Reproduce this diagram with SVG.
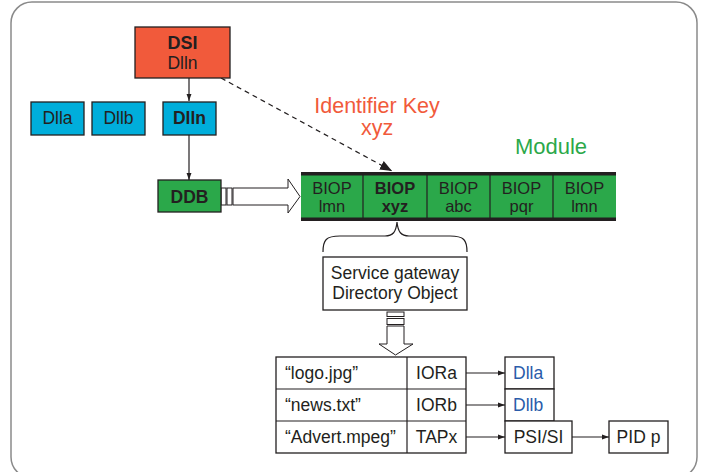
<svg xmlns="http://www.w3.org/2000/svg" width="701" height="472" viewBox="0 0 701 472">
<style>
text{font-family:"Liberation Sans",Arial,sans-serif;fill:#231f20;font-size:17.5px;text-anchor:middle}
.b{font-weight:bold}
.l{text-anchor:start}
.big{font-size:18px}
.red{font-size:21.5px;fill:#f15a3b}
.grn{font-size:22px;fill:#2ba84a}
.blu{fill:#2a5caa}
.m{font-size:16.5px}
.box{stroke:#231f20;stroke-width:1.3}
.line{stroke:#231f20;stroke-width:1.2;fill:none}
.hol{fill:#fff;stroke:#231f20;stroke-width:1}
</style>
<defs>
<marker id="ah" viewBox="0 0 10 10" refX="10" refY="5" markerWidth="7" markerHeight="7" markerUnits="userSpaceOnUse" orient="auto"><path d="M0,1.5 L10,5 L0,8.5z" fill="#231f20"/></marker>
<marker id="ahd" viewBox="0 0 10 10" refX="10" refY="5" markerWidth="12" markerHeight="12" markerUnits="userSpaceOnUse" orient="auto"><path d="M0,1 L10,5 L0,9z" fill="#231f20"/></marker>
</defs>
<rect x="11" y="2" width="686" height="476" rx="21" fill="#fff" stroke="#8a8a8a" stroke-width="1.5"/>

<g id="connectors">
<line class="line" x1="189" y1="78" x2="189" y2="101" marker-end="url(#ah)"/>
<line class="line" x1="189" y1="135" x2="189" y2="180" marker-end="url(#ah)"/>
<line class="line" x1="221" y1="78" x2="392" y2="171" stroke-dasharray="5,4" marker-end="url(#ahd)"/>
<rect class="hol" x="221" y="188" width="5" height="17"/>
<rect class="hol" x="227" y="188" width="5" height="17"/>
<path class="hol" d="M233,188 H288 V179 L300,196.5 L288,213 V205 H233z"/>
<path class="line" d="M323,252 C323,240 326,236 340,236 H385 C393,236 396,232 397,222 C398,232 401,236 409,236 H450 C464,236 467,240 467,252"/>
<rect class="hol" x="387" y="312" width="17" height="4.5"/>
<rect class="hol" x="387" y="318.5" width="17" height="6"/>
<path class="hol" d="M387,326 V344 H379 L395.5,355 L413,344 H404 V326z"/>
<line class="line" x1="466" y1="373" x2="505" y2="373" marker-end="url(#ah)"/>
<line class="line" x1="466" y1="405" x2="505" y2="405" marker-end="url(#ah)"/>
<line class="line" x1="466" y1="437" x2="505" y2="437" marker-end="url(#ah)"/>
<line class="line" x1="572" y1="437" x2="609" y2="437" marker-end="url(#ah)"/>
</g>

<g id="dsi">
<rect class="box" x="135" y="27" width="95" height="51" fill="#f15a3b"/>
<text class="b big" x="182.5" y="49">DSI</text>
<text x="182.5" y="69">Dlln</text>
</g>
<g id="dlla"><rect class="box" x="31" y="102" width="53" height="33" fill="#00aedb"/><text x="57.5" y="124">Dlla</text></g>
<g id="dllb"><rect class="box" x="92" y="102" width="53" height="33" fill="#00aedb"/><text x="118.5" y="124">Dllb</text></g>
<g id="dlln"><rect class="box" x="163" y="102" width="53" height="33" fill="#00aedb"/><text class="b" x="189.5" y="124">Dlln</text></g>
<g id="ddb"><rect class="box" x="158" y="180" width="63" height="32" fill="#2ba84a"/><text class="b" x="189.5" y="203">DDB</text></g>

<g id="labels">
<text class="red" x="377" y="113">Identifier Key</text>
<text class="red" x="377" y="135">xyz</text>
<text class="grn" x="551" y="154">Module</text>
</g>

<g id="module">
<rect x="301" y="174" width="315" height="45" fill="#2ba84a"/>
<rect x="301" y="172" width="315" height="3.5" fill="#231f20"/>
<rect x="301" y="217.5" width="315" height="3.5" fill="#231f20"/>
<g class="line"><line x1="363" y1="175" x2="363" y2="218"/><line x1="427" y1="175" x2="427" y2="218"/><line x1="490" y1="175" x2="490" y2="218"/><line x1="553" y1="175" x2="553" y2="218"/></g>
<text class="m" x="332" y="194">BIOP</text><text class="m" x="332" y="212">lmn</text>
<text class="m b" x="395" y="194">BIOP</text><text class="m b" x="395" y="212">xyz</text>
<text class="m" x="458.5" y="194">BIOP</text><text class="m" x="458.5" y="212">abc</text>
<text class="m" x="521.5" y="194">BIOP</text><text class="m" x="521.5" y="212">pqr</text>
<text class="m" x="584.5" y="194">BIOP</text><text class="m" x="584.5" y="212">lmn</text>
</g>

<g id="sgw">
<rect class="box" x="323" y="257" width="144" height="53" fill="#fff"/>
<text x="395" y="279">Service gateway</text>
<text x="395" y="299">Directory Object</text>
</g>

<g id="table">
<rect class="box" x="276" y="357" width="190" height="96" fill="#fff"/>
<g class="line"><line x1="276" y1="389" x2="466" y2="389"/><line x1="276" y1="421" x2="466" y2="421"/><line x1="407" y1="357" x2="407" y2="453"/></g>
<text class="l" x="285" y="379">“logo.jpg”</text><text x="436.5" y="379">IORa</text>
<text class="l" x="285" y="411">“news.txt”</text><text x="436.5" y="411">IORb</text>
<text class="l" x="285" y="443">“Advert.mpeg”</text><text x="436.5" y="443">TAPx</text>
</g>

<g id="dlla2"><rect class="box" x="505" y="357" width="49" height="32" fill="#fff"/><text class="l blu" x="513" y="379">Dlla</text></g>
<g id="dllb2"><rect class="box" x="505" y="389" width="49" height="32" fill="#fff"/><text class="l blu" x="513" y="411">Dllb</text></g>
<g id="psisi"><rect class="box" x="505" y="421" width="67" height="32" fill="#fff"/><text x="538.5" y="443">PSI/SI</text></g>
<g id="pidp"><rect class="box" x="609" y="421" width="59" height="32" fill="#fff"/><text x="638.5" y="443">PID p</text></g>
</svg>
